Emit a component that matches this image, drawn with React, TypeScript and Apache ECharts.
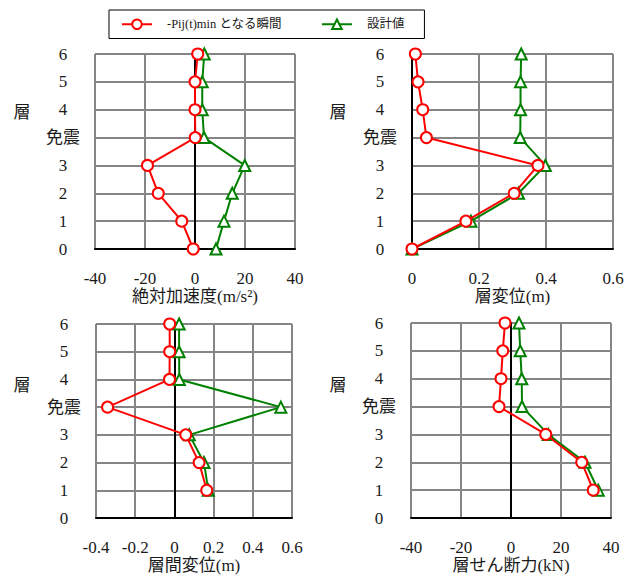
import React, { useEffect, useRef } from "react";
import * as echarts from "echarts";

const levelLabels = ["0", "1", "2", "3", "免震", "4", "5", "6"];
const levels = [0, 1, 2, 3, 4, 5, 6, 7];

const seriesNames = ["-Pij(t)min となる瞬間", "設計値"];

const accelPeak = [-0.7, -5.3, -14.7, -19, 0.1, 0, 0, 1.1];
const accelDesign = [8.4, 11.6, 14.9, 19.9, 3.6, 2.9, 2.9, 3.7];
const dispPeak = [0, 0.161, 0.305, 0.376, 0.043, 0.032, 0.018, 0.01];
const dispDesign = [0, 0.176, 0.318, 0.398, 0.323, 0.324, 0.324, 0.326];
const driftPeak = [null, 0.165, 0.126, 0.058, -0.341, -0.025, -0.024, -0.024];
const driftDesign = [null, 0.173, 0.151, 0.076, 0.543, 0.025, 0.024, 0.024];
const shearPeak = [null, 32.9, 28.3, 13.9, -4.8, -4.0, -3.3, -2.4];
const shearDesign = [null, 34.9, 29.6, 14.9, 4.4, 4.3, 3.7, 3.2];

const axisTitles = ["絶対加速度(m/s²)", "層変位(m)", "層間変位(m)", "層せん断力(kN)"];
const yTitle = "層";

const FONT = "'Liberation Serif', 'Noto Sans CJK JP', serif";
const TEXT = "#1a1a1a";
const RED = "#ff0000";
const GREEN = "#008000";

function pairs(vals: (number | null)[]) {
  return levels
    .map((lv, i) => (vals[i] == null ? null : [vals[i] as number, lv]))
    .filter((p) => p !== null);
}

export default function App() {
  const ref = useRef<HTMLDivElement>(null);
  useEffect(() => {
    if (!ref.current) return;
    const chart = echarts.init(ref.current, undefined, { renderer: "svg" });

    const grids = [
      { left: 95, top: 54, width: 200, height: 195 },
      { left: 412, top: 54, width: 201, height: 195 },
      { left: 96, top: 324, width: 196, height: 194 },
      { left: 411, top: 323, width: 200, height: 195 },
    ];
    const xRanges = [
      { min: -40, max: 40, interval: 20, dec: 0 },
      { min: 0, max: 0.6, interval: 0.2, dec: 1 },
      { min: -0.4, max: 0.6, interval: 0.2, dec: 1 },
      { min: -40, max: 40, interval: 20, dec: 0 },
    ];
    const peakData = [accelPeak, dispPeak, driftPeak, shearPeak];
    const designData = [accelDesign, dispDesign, driftDesign, shearDesign];

    const xAxis = xRanges.map((r, i) => ({
      type: "value",
      gridIndex: i,
      min: r.min,
      max: r.max,
      interval: r.interval,
      name: axisTitles[i],
      nameLocation: "middle",
      nameGap: 39,
      nameTextStyle: { fontFamily: FONT, fontSize: 17, color: TEXT },
      axisLine: { onZero: false, lineStyle: { color: "#000", width: 2 } },
      axisTick: { show: false },
      axisLabel: {
        margin: 21,
        fontFamily: FONT,
        fontSize: 17,
        color: TEXT,
        formatter: (v: number) => (Math.abs(v) < 1e-9 ? "0" : v.toFixed(r.dec)),
      },
      splitLine: { show: true, lineStyle: { color: "#858585", width: 2 } },
    }));

    const yAxis = grids.map((_, i) => ({
      type: "value",
      gridIndex: i,
      min: 0,
      max: 7,
      interval: 1,
      axisLine: { show: true, onZero: true, lineStyle: { color: "#000", width: 2 } },
      axisTick: { show: false },
      axisLabel: {
        margin: 32,
        align: "center",
        fontFamily: FONT,
        fontSize: 17,
        color: TEXT,
        formatter: (v: number) => levelLabels[Math.round(v)] ?? "",
      },
      splitLine: { show: true, lineStyle: { color: "#858585", width: 2 } },
    }));

    const series: any[] = [];
    grids.forEach((_, i) => {
      series.push({
        name: seriesNames[1],
        type: "line",
        xAxisIndex: i,
        yAxisIndex: i,
        data: pairs(designData[i]),
        symbol: "emptyTriangle",
        symbolSize: 11,
        lineStyle: { color: GREEN, width: 2 },
        itemStyle: { color: GREEN, borderWidth: 2 },
        z: 2,
      });
      series.push({
        name: seriesNames[0],
        type: "line",
        xAxisIndex: i,
        yAxisIndex: i,
        data: pairs(peakData[i]),
        symbol: "emptyCircle",
        symbolSize: 11,
        lineStyle: { color: RED, width: 2 },
        itemStyle: { color: RED, borderWidth: 2 },
        z: 3,
      });
    });

    const yTitlePos = [
      [22, 112],
      [338, 112],
      [22, 385],
      [338, 385],
    ];

    chart.setOption({
      animation: false,
      backgroundColor: "#fff",
      legend: {
        data: seriesNames,
        left: 109,
        top: 10,
        padding: [8, 20, 8, 12],
        itemGap: 39,
        itemWidth: 30,
        itemHeight: 12,
        borderColor: "#000",
        borderWidth: 1,
        textStyle: { fontFamily: FONT, fontSize: 12.5, color: TEXT, padding: [0, 0, 0, 10] },
      },
      grid: grids,
      xAxis,
      yAxis,
      series,
      graphic: yTitlePos.map(([x, y]) => ({
        type: "text",
        x,
        y,
        style: {
          text: yTitle,
          fontFamily: FONT,
          fontSize: 17,
          fill: TEXT,
          textAlign: "center",
          textVerticalAlign: "middle",
        },
      })),
    });

    return () => chart.dispose();
  }, []);

  return (
    <div
      ref={ref}
      style={{ position: "fixed", left: 0, top: 0, width: 633, height: 576 }}
    />
  );
}
